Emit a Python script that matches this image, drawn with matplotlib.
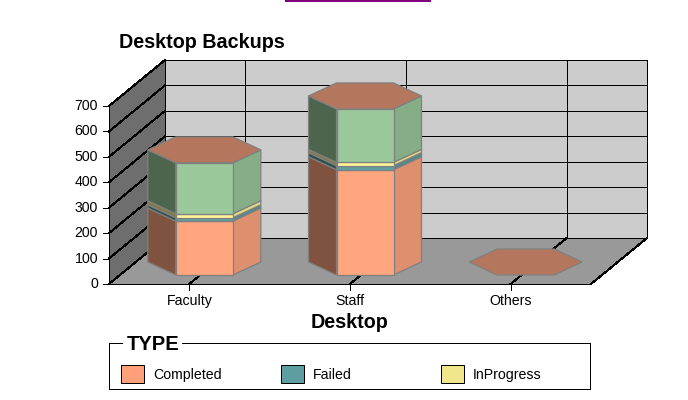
import matplotlib
matplotlib.use("Agg")
import matplotlib.pyplot as plt
from matplotlib.patches import Polygon, Rectangle

plt.rcParams['font.family'] = ['Liberation Sans', 'DejaVu Sans']

# data
categories = ['Faculty', 'Staff', 'Others']
completed = [212, 414, 0]
failed = [13, 16, 0]
in_progress = [16, 13, 0]
pending = [200, 210, 0]
y_ticks = [0, 100, 200, 300, 400, 500, 600, 700]
legend_names = ['Completed', 'Failed', 'InProgress']

# layout in pixels
x0, x1 = 109, 591
y0 = 284
px_per_unit = 178 / 700
dx, dy = 56, -46
cat_w = (x1 - x0) / len(categories)
hw, sw, hd = 28.5, 28, 13
off_x, off_y = 15, -22


def yp(v):
    return y0 - v * px_per_unit


def shade(c, k):
    return tuple(min(1, a * k) for a in matplotlib.colors.to_rgb(c))


fig = plt.figure(figsize=(6.88, 4), dpi=100)
ax = fig.add_axes([0, 0, 1, 1])
ax.set_xlim(0, 688)
ax.set_ylim(400, 0)
ax.axis('off')

line = dict(color='black', lw=0.72, antialiased=False, zorder=2)

# walls and floor
top = yp(y_ticks[-1])
ax.add_patch(Polygon([(x0 + dx, top + dy), (x1 + dx, top + dy), (x1 + dx, y0 + dy), (x0 + dx, y0 + dy)],
                     fc='#cccccc', ec='none', zorder=1))
ax.add_patch(Polygon([(x0, top), (x0 + dx, top + dy), (x0 + dx, y0 + dy), (x0, y0)],
                     fc='#6e6e6e', ec='none', zorder=1))
ax.add_patch(Polygon([(x0, y0), (x0 + dx, y0 + dy), (x1 + dx, y0 + dy), (x1, y0)],
                     fc='#999999', ec='none', zorder=1))

# separate straight and slanted pieces, only straight ones get snapped to one pixel
for t in y_ticks:
    y = yp(t)
    ax.plot([x0 - 6, x0], [y, y], **line)
    ax.plot([x0, x0 + dx], [y, y + dy], **line)
    ax.plot([x0 + dx, x1 + dx], [y + dy, y + dy], **line)
    ax.text(x0 - 11, y, str(t), ha='right', va='center', fontsize=10.2)
ax.plot([x0, x0], [top, y0], **line)
ax.plot([x0 + dx, x0 + dx], [top + dy, y0 + dy], **line)
ax.plot([x1 + dx, x1 + dx], [top + dy, y0 + dy], **line)
ax.plot([x0, x1], [y0, y0], **line)
ax.plot([x1, x1 + dx], [y0, y0 + dy], **line)

# bars
edge = '#808080'
colors = ['#ffa67f', '#5f9ea0', '#fff59a', '#9ac89a']
for i, cat in enumerate(categories):
    cx = x0 + cat_w * (i + 0.5)
    ax.plot([cx, cx], [y0, y0 + 6], **line)
    ax.plot([cx, cx + dx], [y0, y0 + dy], **line)
    ax.plot([cx + dx, cx + dx], [y0 + dy, top + dy], **line)
    ax.text(cx, y0 + 17, cat, ha='center', va='center', fontsize=10.2)

    mx = cx + off_x
    base = 0
    for vals, c in zip([completed, failed, in_progress, pending], colors):
        v = vals[i]
        if v == 0:
            continue
        yb = yp(base) + off_y
        yt = yp(base + v) + off_y
        ax.add_patch(Polygon([(mx - hw - sw, yb), (mx - hw, yb + hd), (mx - hw, yt + hd), (mx - hw - sw, yt)],
                             fc=shade(c, 0.5), ec=edge, lw=0.9, zorder=3))
        ax.add_patch(Polygon([(mx + hw + sw, yb), (mx + hw, yb + hd), (mx + hw, yt + hd), (mx + hw + sw, yt)],
                             fc=shade(c, 0.87), ec=edge, lw=0.9, zorder=3))
        ax.add_patch(Rectangle((mx - hw, yt + hd), 2 * hw, yb - yt, fc=c, ec=edge, lw=0.9, zorder=3))
        base += v
    yt = yp(base) + off_y
    ax.add_patch(Polygon([(mx - hw - sw, yt), (mx - hw, yt + hd), (mx + hw, yt + hd), (mx + hw + sw, yt),
                          (mx + hw, yt - hd), (mx - hw, yt - hd)],
                         fc='#b5765e', ec=edge, lw=0.9, zorder=4))

# titles
ax.text(119, 42, 'Desktop Backups', ha='left', va='center', fontsize=14.2, fontweight='bold')
ax.text(350, 322, 'Desktop', ha='center', va='center', fontsize=14.2, fontweight='bold')

# cropped link underline at the very top
ax.plot([286, 430], [0.5, 0.5], color='#800080', lw=1.2, antialiased=False)

# legend box
ax.plot([122, 109, 109, 590, 590, 182], [343, 343, 389, 389, 343, 343], **line)
ax.text(127, 345, 'TYPE', ha='left', va='center', fontsize=14.5, fontweight='bold')
legend_colors = ['#ffa07a', '#5f9ea0', '#f0e68c']
for i, (name, c) in enumerate(zip(legend_names, legend_colors)):
    lx = 121 + 160 * i
    ax.add_patch(Rectangle((lx, 365), 23, 18, fc=c, ec='black', lw=0.72, zorder=3))
    ax.text(lx + 32, 375, name, ha='left', va='center', fontsize=10.2)

fig.savefig('out.png', dpi=100)
